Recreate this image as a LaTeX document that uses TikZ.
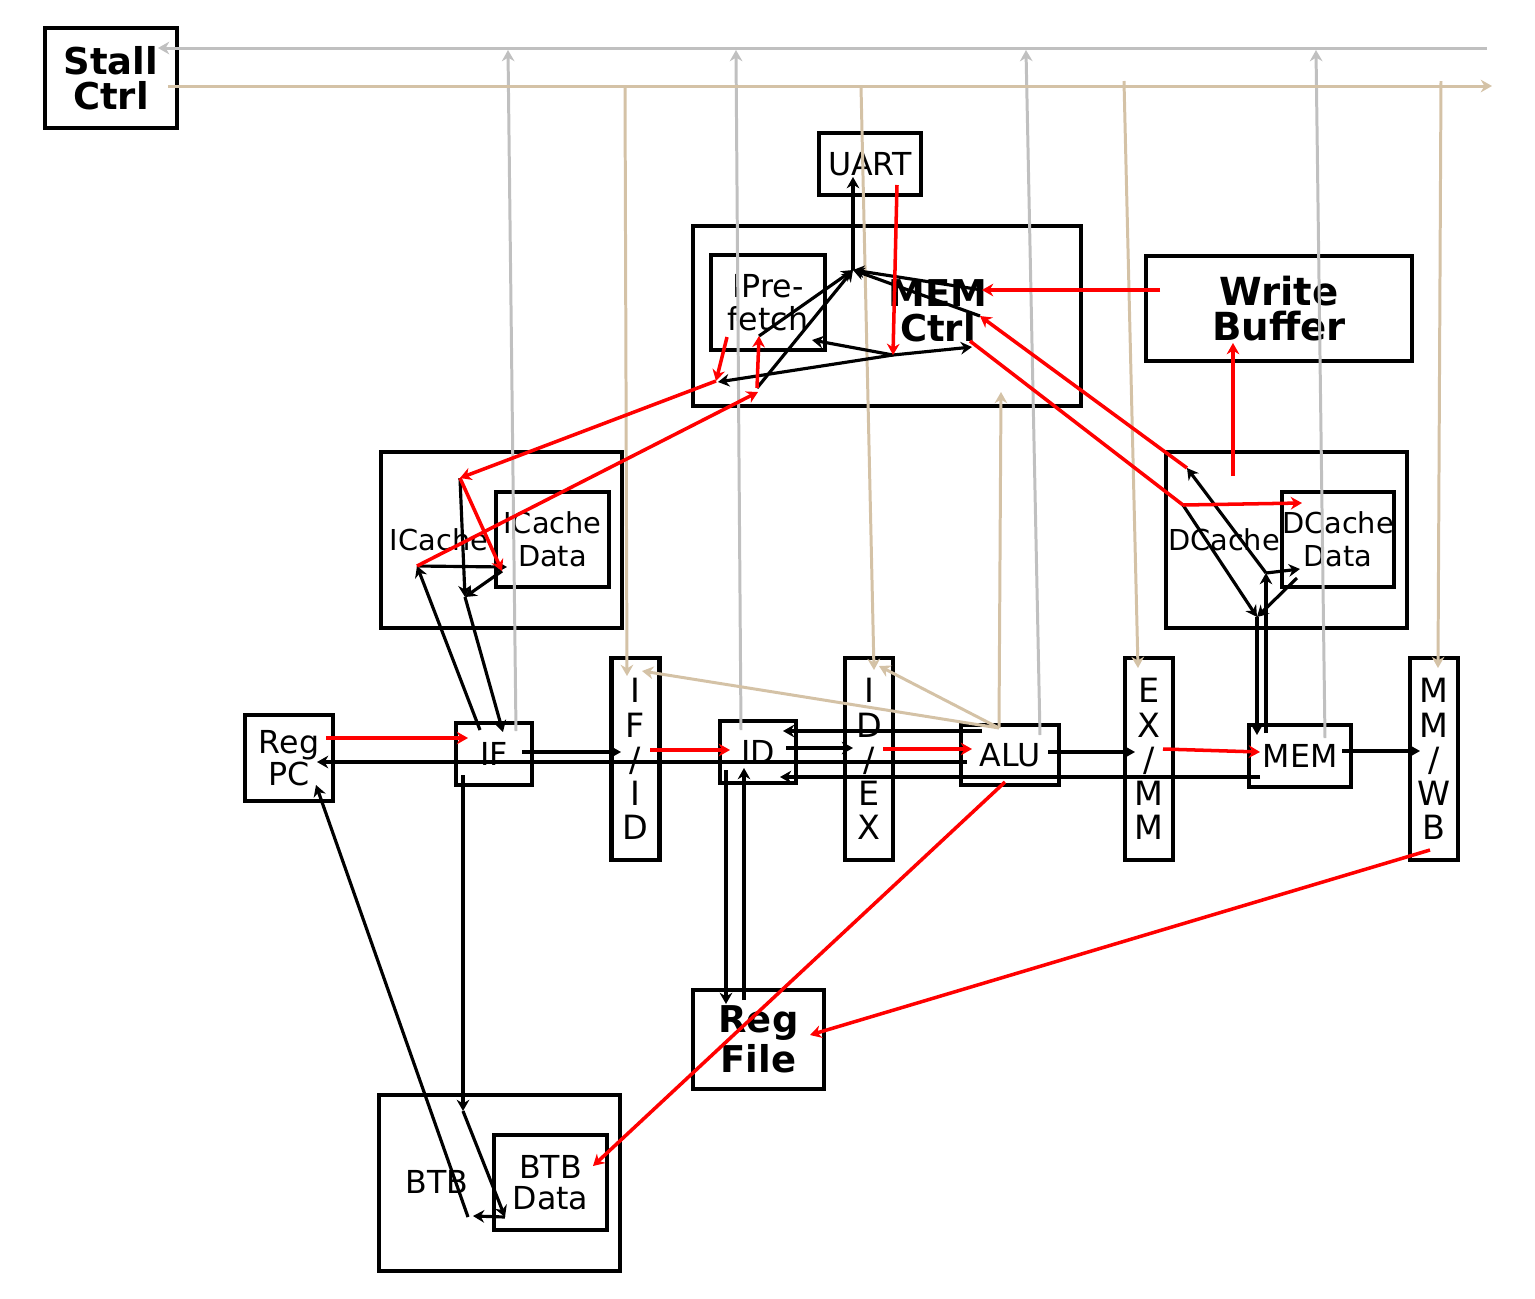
\documentclass[tikz,border=0pt]{standalone}
\usepackage{fontspec}
\setmainfont{DejaVu Sans}
\usetikzlibrary{arrows.meta}

\definecolor{stallgray}{RGB}{192,192,192}
\definecolor{flushtan}{RGB}{212,194,166}

\tikzset{
  box/.style={draw, line width=1.2pt, inner sep=0pt, align=center,
    font=\fontsize{9}{9}\selectfont},
  bigtxt/.style={inner sep=0pt, align=center,
    font=\bfseries\fontsize{10.5}{10}\selectfont},
  cachetxt/.style={inner sep=0pt, align=center,
    font=\fontsize{8.2}{9.4}\selectfont},
  pipereg/.style={box, minimum width=0.48cm, minimum height=2.02cm,
    font=\fontsize{9.5}{9.7}\selectfont},
  tip/.style={-{Stealth[length=3.2pt,width=3.6pt]}},
  wire/.style={tip, line width=0.9pt, black},
  hot/.style={tip, line width=1pt, red},
  stallsig/.style={tip, line width=0.85pt, stallgray},
  flushsig/.style={tip, line width=0.85pt, flushtan},
}

\begin{document}
\begin{tikzpicture}[x=0.01cm, y=-0.01cm]
  \useasboundingbox (0,0) rectangle (1535,1299);

  % Boxes.
  \node[box, minimum width=1.32cm, minimum height=1cm, font=\bfseries\fontsize{10.5}{10}\selectfont]
    (stall) at (111,78) {Stall\\Ctrl};
  \node[box, minimum width=1.02cm, minimum height=0.62cm] (uart) at (870,164) {UART};
  \node[box, minimum width=3.88cm, minimum height=1.8cm] (memctrl) at (887,316) {};
  \node[bigtxt] (memctrltxt) at (938,311) {MEM\\Ctrl};
  \node[box, minimum width=1.14cm, minimum height=0.95cm, font=\fontsize{9}{9.2}\selectfont]
    (ipref) at (768,302.5) {IPre-\\fetch};
  \node[box, minimum width=2.66cm, minimum height=1.05cm, font=\bfseries\fontsize{11}{10}\selectfont]
    (wbuf) at (1279,308.5) {Write\\Buffer};

  \node[box, minimum width=2.41cm, minimum height=1.76cm] (icache) at (501.5,540) {};
  \node[cachetxt] (icachetxt) at (439,540) {ICache};
  \node[box, minimum width=1.13cm, minimum height=0.95cm, font=\fontsize{8.2}{9.4}\selectfont]
    (icdata) at (552.5,539.5) {ICache\\Data};
  \node[box, minimum width=2.41cm, minimum height=1.76cm] (dcache) at (1286.5,540) {};
  \node[cachetxt] (dcachetxt) at (1224,540) {DCache};
  \node[box, minimum width=1.12cm, minimum height=0.95cm, font=\fontsize{8.2}{9.4}\selectfont]
    (dcdata) at (1338,539.5) {DCache\\Data};

  \node[box, minimum width=0.88cm, minimum height=0.86cm] (regpc) at (289,758) {Reg\\PC};
  \node[box, minimum width=0.76cm, minimum height=0.62cm] (ifst) at (494,754) {IF};
  \node[pipereg] (ifid) at (635.5,759) {I\\F\\/\\I\\D};
  \node[box, minimum width=0.76cm, minimum height=0.62cm] (idst) at (758,752) {ID};
  \node[pipereg] (idex) at (869,759) {I\\D\\/\\E\\X};
  \node[box, minimum width=0.98cm, minimum height=0.6cm] (alu) at (1010,755) {ALU};
  \node[pipereg] (exmm) at (1149,759) {E\\X\\/\\M\\M};
  \node[box, minimum width=1.02cm, minimum height=0.62cm] (mem) at (1300,756) {MEM};
  \node[pipereg] (mmwb) at (1434,759) {M\\M\\/\\W\\B};

  \node[box, minimum width=1.31cm, minimum height=0.99cm, font=\bfseries\fontsize{10.5}{9.6}\selectfont]
    (regfile) at (758.5,1039.5) {Reg\\File};
  \node[box, minimum width=2.41cm, minimum height=1.76cm] (btb) at (499.5,1183) {};
  \node[cachetxt, font=\fontsize{9}{9}\selectfont] (btbtxt) at (437,1182) {BTB};
  \node[box, minimum width=1.13cm, minimum height=0.95cm] (btbdata) at (550.5,1182.5) {BTB\\Data};

  % Junction points.
  \coordinate (gbus) at (1487,48);   \coordinate (gbusend) at (158,48);
  \coordinate (tbus) at (168,86);    \coordinate (tbusend) at (1492,86);
  \coordinate (gif) at (516,731);    \coordinate (giftop) at (508,50);
  \coordinate (gid) at (741,730);    \coordinate (gidtop) at (736,50);
  \coordinate (galu) at (1040,735);  \coordinate (galutop) at (1026,50);
  \coordinate (gmem) at (1325,738);  \coordinate (gmemtop) at (1316,50);
  \coordinate (tifid) at (625,86);   \coordinate (tifidin) at (627,676);
  \coordinate (tidex) at (861,86);   \coordinate (tidexin) at (874,670);
  \coordinate (texmm) at (1124,81);  \coordinate (texmmin) at (1138,668);
  \coordinate (tmmwb) at (1441,81);  \coordinate (tmmwbin) at (1438,668);
  \coordinate (aluflush) at (999,728);
  \coordinate (flushifid) at (642,671);
  \coordinate (flushidex) at (879,666);
  \coordinate (flushmc) at (1001,392);

  \coordinate (ifout) at (522,752);   \coordinate (ifidin) at (621,752);
  \coordinate (alupc) at (967,762);   \coordinate (pcin) at (317,762);
  \coordinate (idout) at (786,748);   \coordinate (idexin) at (853,748);
  \coordinate (alufwd) at (982,731);  \coordinate (idfwd) at (783,731);
  \coordinate (memfwd) at (1260,777); \coordinate (idfwdm) at (780,777);
  \coordinate (aluout) at (1048,752); \coordinate (exmmin) at (1135,752);
  \coordinate (memout) at (1342,751); \coordinate (mmwbin) at (1420,751);
  \coordinate (idrd) at (726,770);    \coordinate (rfin) at (726,1004);
  \coordinate (rfout) at (744,1000);  \coordinate (idin) at (744,768);
  \coordinate (ifbtb) at (463,775);   \coordinate (btbidx) at (463,1111);
  \coordinate (btbhit) at (505,1217); \coordinate (btbsel) at (473,1216);
  \coordinate (btbpc) at (468,1217);  \coordinate (pcbtb) at (316,785);
  \coordinate (ific) at (480,730);    \coordinate (ictag) at (417,566);
  \coordinate (icdin) at (507,567);   \coordinate (icmiss) at (460,478);
  \coordinate (icdout) at (502,571);  \coordinate (icmux) at (465,597);
  \coordinate (ifin) at (503,732);
  \coordinate (memdc) at (1266,733);  \coordinate (dctag) at (1266,573);
  \coordinate (dcdin) at (1300,569);  \coordinate (dcwb) at (1187,468);
  \coordinate (dcfill) at (1183,505); \coordinate (dcmux) at (1257,617);
  \coordinate (dcdout) at (1297,578); \coordinate (memin) at (1257,735);
  \coordinate (dcfillin) at (1302,503);
  \coordinate (dcwbuf) at (1233,476); \coordinate (wbin) at (1233,343);
  \coordinate (mchub) at (853,270);   \coordinate (uartin) at (853,177);
  \coordinate (uartout) at (897,185);
  \coordinate (mcwb) at (982,290);    \coordinate (mcdc) at (980,316);
  \coordinate (wbout) at (1160,290);
  \coordinate (mcsplit) at (893,355);
  \coordinate (mcfill) at (970,341);  \coordinate (mcin) at (972,347);
  \coordinate (pfreq) at (757,388);   \coordinate (pfup) at (759,336);
  \coordinate (pfin) at (718,382);    \coordinate (pfret) at (812,340);
  \coordinate (pfmiss) at (758,392);  \coordinate (pfout) at (727,337);
  \coordinate (pfsel) at (716,381);
  \coordinate (pcout) at (326,738);   \coordinate (ifreq) at (468,738);
  \coordinate (ifidout) at (650,750); \coordinate (idreq) at (730,750);
  \coordinate (idexout) at (883,749); \coordinate (alureq) at (972,749);
  \coordinate (exmmout) at (1163,749);\coordinate (memreq) at (1260,752);
  \coordinate (alubr) at (1005,782);  \coordinate (btbupd) at (593,1166);
  \coordinate (mmwbout) at (1430,850);\coordinate (rfwb) at (810,1035);

  % Stall bus (gray) and flush bus (tan).
  \draw[stallsig] (gbus) -- (gbusend);
  \foreach \a/\b in {gif/giftop, gid/gidtop, galu/galutop, gmem/gmemtop}
    \draw[stallsig] (\a) -- (\b);
  \draw[flushsig] (tbus) -- (tbusend);
  \foreach \a/\b in {tifid/tifidin, tidex/tidexin, texmm/texmmin, tmmwb/tmmwbin,
                     aluflush/flushifid, aluflush/flushidex, aluflush/flushmc}
    \draw[flushsig] (\a) -- (\b);

  % Black data and control wires.
  \foreach \a/\b in {ifout/ifidin, alupc/pcin, idout/idexin, alufwd/idfwd,
                     memfwd/idfwdm, aluout/exmmin, memout/mmwbin,
                     idrd/rfin, rfout/idin,
                     ifbtb/btbidx, btbidx/btbhit, btbhit/btbsel, btbpc/pcbtb,
                     ific/ictag, ictag/icdin, icmiss/icmux, icdout/icmux, icmux/ifin,
                     memdc/dctag, dctag/dcdin, dctag/dcwb, dcfill/dcmux,
                     dcdout/dcmux, dcmux/memin,
                     mchub/uartin, mcwb/mchub, mcdc/mchub, pfreq/mchub, pfup/mchub,
                     mcsplit/pfin, mcsplit/pfret, mcsplit/mcin}
    \draw[wire] (\a) -- (\b);

  % Red main path.
  \foreach \a/\b in {pcout/ifreq, ifidout/idreq, idexout/alureq, exmmout/memreq,
                     alubr/btbupd, mmwbout/rfwb,
                     ictag/pfmiss, pfreq/pfup, pfout/pfsel, pfsel/icmiss,
                     icmiss/icdout, uartout/mcsplit,
                     dcfill/dcfillin, dcwb/mcdc, wbout/mcwb, dcwbuf/wbin}
    \draw[hot] (\a) -- (\b);
  \draw[hot, -] (mcfill) -- (dcfill);

\end{tikzpicture}
\end{document}
